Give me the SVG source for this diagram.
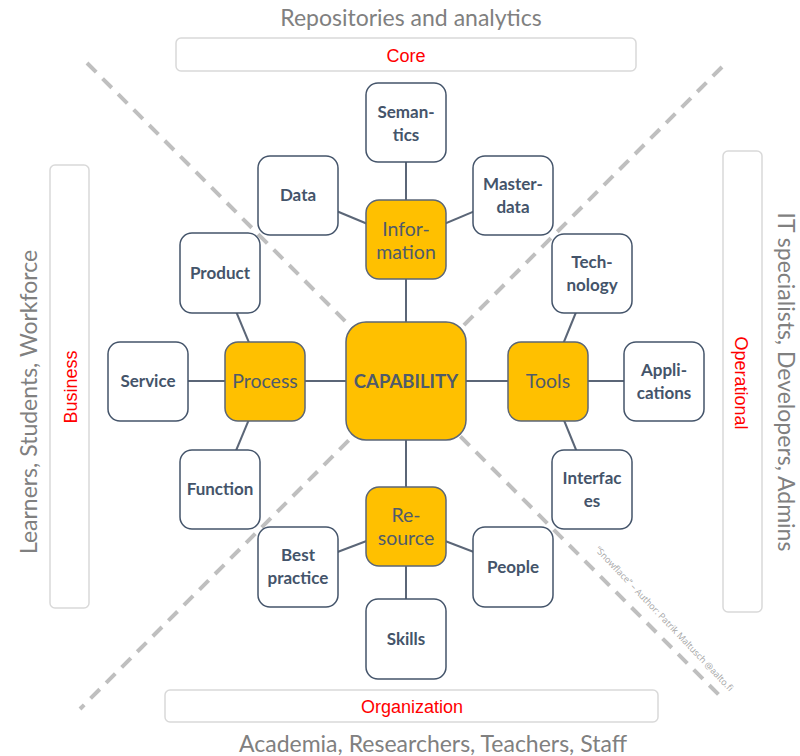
<svg xmlns="http://www.w3.org/2000/svg" width="800" height="756" viewBox="0 0 800 756">
<style>
.band{fill:#fff;stroke:#D9D9D9;stroke-width:1.5}
.bandt{font-family:"Liberation Sans",Arial,sans-serif;font-size:18px;fill:#FF0000;text-anchor:middle}
.aud{font-family:Lato,"Open Sans",sans-serif;font-size:23px;fill:#808080;text-anchor:middle}
.diag{stroke:#BFBFBF;stroke-width:4;stroke-dasharray:13 9;fill:none}
.conn{stroke:#5B6677;stroke-width:2;fill:none}
.leaf rect{fill:#fff;stroke:#44546A;stroke-width:1.5}
.leaf text{font-family:Lato,"Open Sans",sans-serif;font-size:17px;font-weight:bold;fill:#44546A;text-anchor:middle}
.hub rect{fill:#FFC000;stroke:#5B6677;stroke-width:1.5}
.hub text{font-family:Lato,"Open Sans",sans-serif;font-size:19.5px;fill:#4F5B6B;text-anchor:middle}
.note{font-family:"Open Sans",Lato,sans-serif;font-size:9px;fill:#A6A6A6;text-anchor:middle}
</style>

<g id="labels">
<text class="aud" x="411" y="26">Repositories and analytics</text>
<text class="aud" x="433" y="752">Academia, Researchers, Teachers, Staff</text>
<text class="aud" transform="translate(37,402) rotate(-90)">Learners, Students, Workforce</text>
<text class="aud" transform="translate(778,382) rotate(90)">IT specialists, Developers, Admins</text>
</g>

<g id="band-core"><rect class="band" x="176" y="38" width="460" height="33" rx="5"/><text class="bandt" x="406" y="62">Core</text></g>
<g id="band-organization"><rect class="band" x="165" y="690" width="493" height="32" rx="5"/><text class="bandt" x="412" y="713">Organization</text></g>
<g id="band-business"><rect class="band" x="50" y="165" width="39" height="443" rx="5"/><text class="bandt" transform="translate(77,387) rotate(-90)">Business</text></g>
<g id="band-operational"><rect class="band" x="723" y="151" width="39" height="461" rx="5"/><text class="bandt" transform="translate(735,383) rotate(90)">Operational</text></g>

<g id="diagonals">
<line class="diag" x1="87" y1="63" x2="723" y2="699"/>
<line class="diag" x1="722" y1="67" x2="80" y2="709"/>
</g>
<text class="note" transform="translate(662,621) rotate(46.5)">“Snowflace” – Author: Patrik Maltusch @aalto.fi</text>

<g id="connectors">
<line class="conn" x1="406" y1="381" x2="406" y2="240"/>
<line class="conn" x1="406" y1="381" x2="265" y2="381"/>
<line class="conn" x1="406" y1="381" x2="548" y2="381"/>
<line class="conn" x1="406" y1="381" x2="406" y2="526"/>
<line class="conn" x1="406" y1="240" x2="406" y2="122"/>
<line class="conn" x1="406" y1="240" x2="298" y2="195"/>
<line class="conn" x1="406" y1="240" x2="513" y2="195"/>
<line class="conn" x1="265" y1="381" x2="220" y2="273"/>
<line class="conn" x1="265" y1="381" x2="148" y2="381"/>
<line class="conn" x1="265" y1="381" x2="220" y2="489"/>
<line class="conn" x1="548" y1="381" x2="592" y2="273"/>
<line class="conn" x1="548" y1="381" x2="664" y2="381"/>
<line class="conn" x1="548" y1="381" x2="592" y2="489"/>
<line class="conn" x1="406" y1="526" x2="298" y2="567"/>
<line class="conn" x1="406" y1="526" x2="513" y2="567"/>
<line class="conn" x1="406" y1="526" x2="406" y2="639"/>
</g>

<g id="capability" class="hub"><rect x="346" y="322" width="120" height="118" rx="20"/><text x="406" y="388" style="font-weight:bold;font-size:18.5px">CAPABILITY</text></g>
<g id="information" class="hub"><rect x="366" y="200" width="80" height="79" rx="13"/><text x="406" y="236">Infor-</text><text x="406" y="259">mation</text></g>
<g id="process" class="hub"><rect x="225" y="342" width="80" height="79" rx="13"/><text x="265" y="388">Process</text></g>
<g id="tools" class="hub"><rect x="508" y="342" width="80" height="79" rx="13"/><text x="548" y="388">Tools</text></g>
<g id="resource" class="hub"><rect x="366" y="487" width="80" height="79" rx="13"/><text x="406" y="522">Re-</text><text x="406" y="545">source</text></g>

<g id="semantics" class="leaf"><rect x="366" y="83" width="80" height="79" rx="12"/><text x="406" y="118">Seman-</text><text x="406" y="141">tics</text></g>
<g id="data" class="leaf"><rect x="258" y="156" width="80" height="79" rx="12"/><text x="298" y="201">Data</text></g>
<g id="masterdata" class="leaf"><rect x="473" y="156" width="80" height="79" rx="12"/><text x="513" y="190">Master-</text><text x="513" y="213">data</text></g>
<g id="product" class="leaf"><rect x="180" y="233" width="80" height="80" rx="12"/><text x="220" y="279">Product</text></g>
<g id="technology" class="leaf"><rect x="552" y="234" width="80" height="79" rx="12"/><text x="592" y="268">Tech-</text><text x="592" y="291">nology</text></g>
<g id="service" class="leaf"><rect x="108" y="342" width="80" height="79" rx="12"/><text x="148" y="387">Service</text></g>
<g id="applications" class="leaf"><rect x="624" y="342" width="80" height="79" rx="12"/><text x="664" y="376">Appli-</text><text x="664" y="399">cations</text></g>
<g id="function" class="leaf"><rect x="180" y="450" width="80" height="79" rx="12"/><text x="220" y="495">Function</text></g>
<g id="interfaces" class="leaf"><rect x="552" y="450" width="80" height="79" rx="12"/><text x="592" y="484">Interfac</text><text x="592" y="507">es</text></g>
<g id="bestpractice" class="leaf"><rect x="258" y="527" width="80" height="80" rx="12"/><text x="298" y="561">Best</text><text x="298" y="584">practice</text></g>
<g id="people" class="leaf"><rect x="473" y="527" width="80" height="80" rx="12"/><text x="513" y="573">People</text></g>
<g id="skills" class="leaf"><rect x="366" y="599" width="80" height="80" rx="12"/><text x="406" y="645">Skills</text></g>
</svg>
